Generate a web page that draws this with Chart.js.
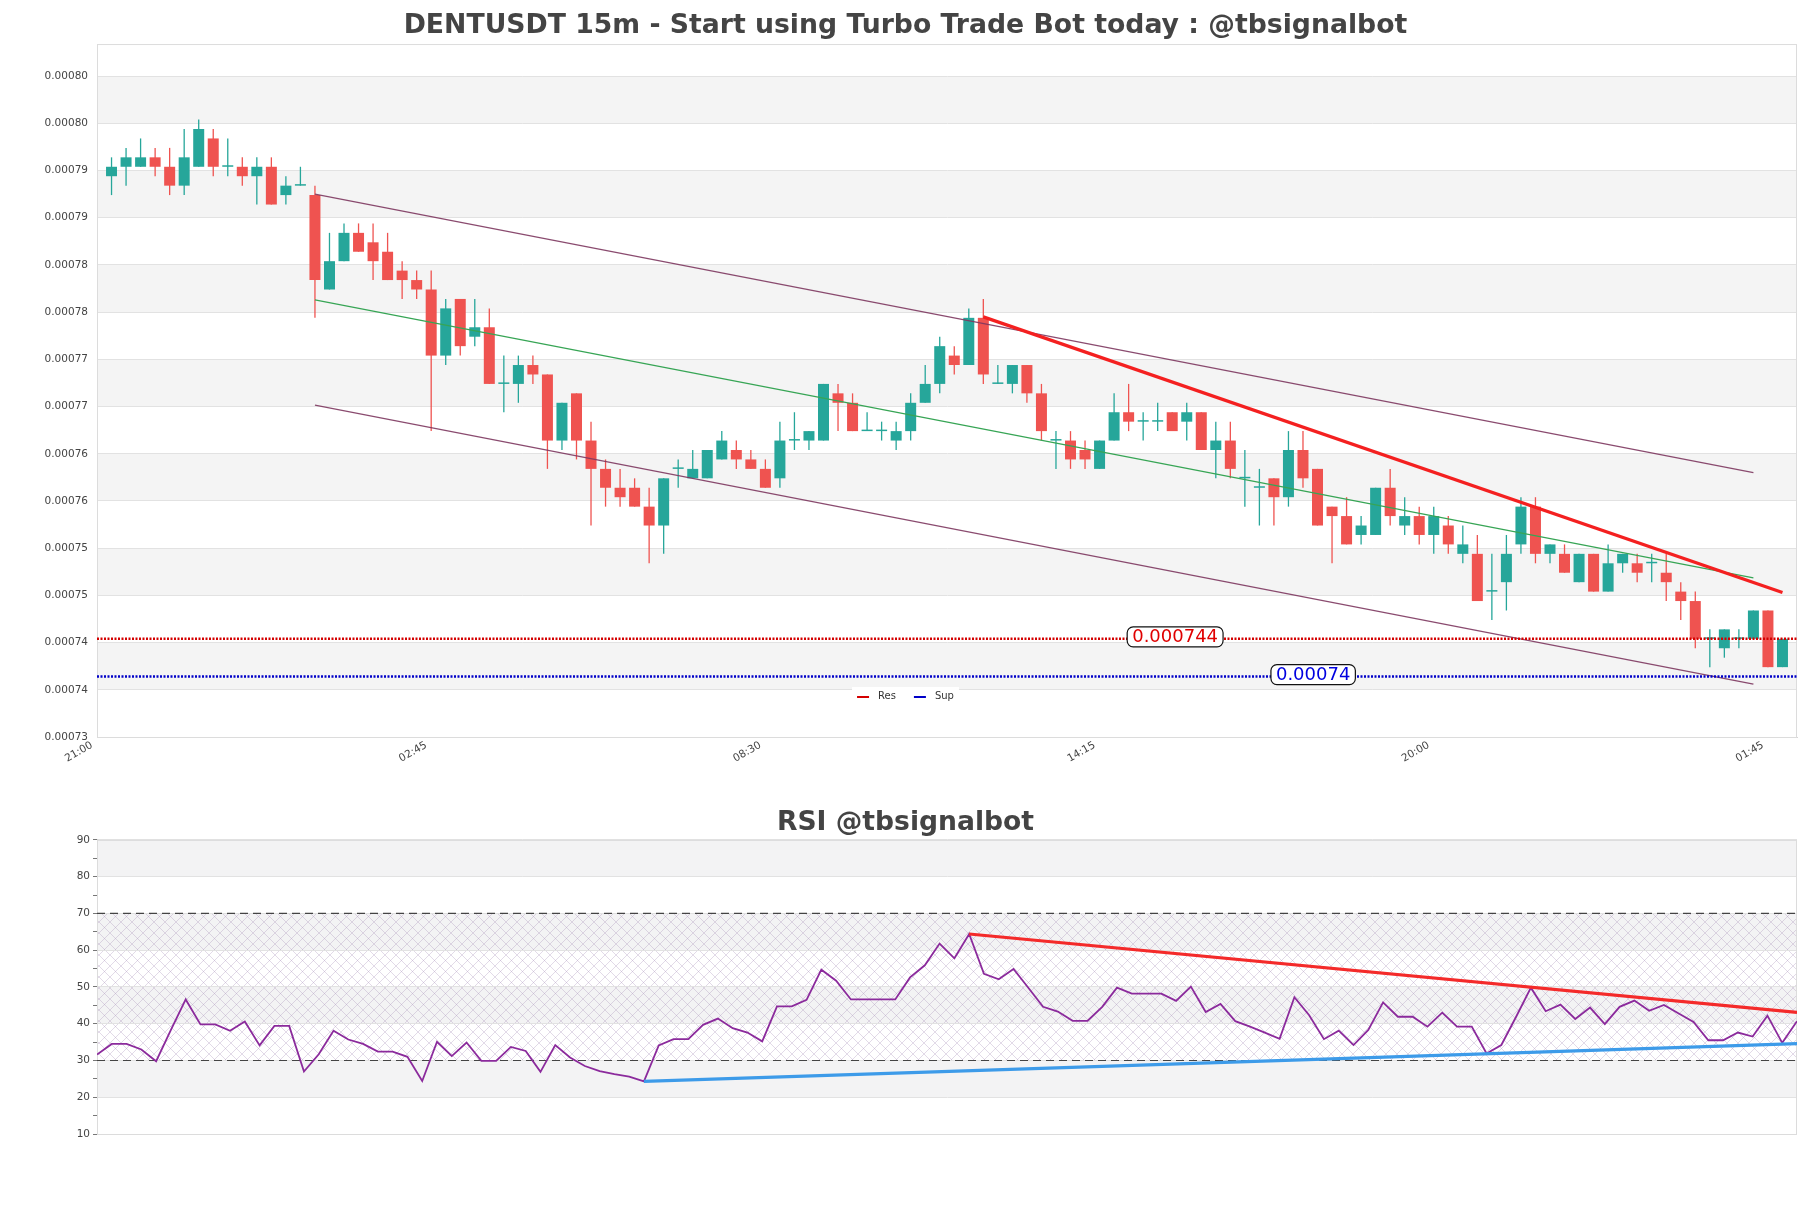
<!DOCTYPE html>
<html>
<head>
<meta charset="utf-8">
<title>DENTUSDT 15m</title>
<script src="https://cdn.jsdelivr.net/npm/chart.js@4.4.1/dist/chart.umd.min.js"></script>
<style>
  body { margin: 0; background: #fff; }
  #wrap { position: relative; width: 1811px; height: 1208px; }
  #price-wrap { position: absolute; left: 0; top: 0; width: 1811px; height: 790px; }
  #rsi-wrap { position: absolute; left: 0; top: 790px; width: 1811px; height: 418px; }
</style>
</head>
<body>
<div id="wrap">
  <div id="price-wrap"><canvas id="price-canvas"></canvas></div>
  <div id="rsi-wrap"><canvas id="rsi-canvas"></canvas></div>
</div>
<script>
// prices are in millionths of USDT (793 -> 0.000793), candle n sits at x = n (21:00 = 0)
const opens = [
  793, 794, 794, 795, 794, 792, 794, 797, 794, 794,
  793, 794, 791, 792, 791, 781, 784, 787, 786, 785,
  783, 782, 781, 774, 780, 776, 777, 771, 771, 773,
  772, 765, 770, 765, 762, 760, 760, 758, 756, 762,
  761, 761, 763, 764, 763, 762, 761, 765, 765, 765,
  770, 769, 766, 766, 765, 766, 769, 771, 774, 773,
  778, 771, 771, 773, 770, 765, 765, 764, 762, 765,
  768, 767, 767, 768, 767, 768, 764, 765, 761, 760,
  761, 759, 764, 762, 758, 757, 755, 755, 760, 756,
  757, 755, 756, 753, 753, 749, 750, 754, 758, 753,
  753, 750, 753, 749, 752, 752, 752, 751, 749, 748,
  744, 743, 744, 744, 747, 741
];
const highs = [
  795, 796, 797, 796, 796, 798, 799, 798, 797, 795,
  795, 795, 793, 794, 792, 787, 788, 788, 788, 787,
  784, 783, 783, 780, 780, 780, 779, 774, 774, 774,
  772, 769, 770, 767, 763, 762, 761, 760, 761, 763,
  764, 764, 766, 765, 764, 763, 767, 768, 766, 771,
  771, 770, 768, 767, 767, 770, 773, 776, 775, 779,
  780, 773, 773, 773, 771, 766, 766, 765, 765, 770,
  771, 768, 769, 768, 769, 768, 767, 767, 764, 762,
  761, 766, 766, 762, 758, 759, 757, 760, 762, 759,
  758, 758, 757, 756, 755, 753, 755, 759, 759, 754,
  754, 753, 753, 754, 753, 753, 753, 753, 750, 749,
  745, 745, 745, 747, 747, 744
];
const lows = [
  791, 792, 794, 793, 791, 791, 794, 793, 793, 792,
  790, 790, 790, 792, 778, 781, 784, 785, 782, 782,
  780, 780, 766, 773, 774, 775, 771, 768, 769, 771,
  762, 764, 763, 756, 758, 758, 758, 752, 753, 760,
  761, 761, 763, 762, 762, 760, 760, 764, 764, 765,
  766, 766, 766, 765, 764, 765, 769, 770, 772, 773,
  771, 771, 770, 769, 765, 762, 762, 762, 762, 765,
  766, 765, 766, 766, 765, 764, 761, 761, 758, 756,
  756, 758, 760, 756, 752, 754, 754, 755, 756, 755,
  754, 753, 753, 752, 748, 746, 747, 753, 752, 752,
  751, 750, 749, 749, 751, 750, 750, 748, 746, 743,
  741, 742, 743, 744, 741, 741
];
const closes = [
  794, 795, 795, 794, 792, 795, 798, 794, 794, 793,
  794, 790, 792, 792, 782, 784, 787, 785, 784, 782,
  782, 781, 774, 779, 775, 777, 771, 771, 773, 772,
  765, 769, 765, 762, 760, 759, 758, 756, 761, 762,
  762, 764, 765, 763, 762, 760, 765, 765, 766, 771,
  769, 766, 766, 766, 766, 769, 771, 775, 773, 778,
  772, 771, 773, 770, 766, 765, 763, 763, 765, 768,
  767, 767, 767, 766, 768, 764, 765, 762, 761, 760,
  759, 764, 761, 756, 757, 754, 756, 760, 757, 757,
  755, 757, 754, 754, 748, 749, 753, 758, 753, 754,
  751, 753, 749, 752, 753, 751, 752, 750, 748, 744,
  744, 745, 744, 747, 741, 744
];

const priceTicks = [733.6, 738.6, 743.6, 748.6, 753.6, 758.6, 763.6, 768.6,
  773.6, 778.6, 783.6, 788.6, 793.6, 798.6, 803.6];
const xTickPos = [0, 23, 46, 69, 92, 115];
const xTickLabels = ['21:00', '02:45', '08:30', '14:15', '20:00', '01:45'];

// regression channel (start/end candle, price)
const channelX = [15, 114];
const channelUpper = [791.1, 761.6];
const channelMid = [779.9, 750.45];
const channelLower = [768.75, 739.2];

// resistance trend line
const trendX = [61, 116];
const trendY = [778.1, 748.9];

const resLevel = 744;
const supLevel = 740;
const resLabelAt = 74.2;
const supLabelAt = 83.7;

// RSI
const rsiValues = [
  31.6, 34.5, 34.5, 33.0, 29.8, 38.3, 46.6, 39.8, 39.8, 38.1,
  40.6, 34.1, 39.4, 39.4, 27.0, 31.7, 38.1, 35.7, 34.5, 32.4,
  32.4, 31.0, 24.4, 35.1, 31.2, 34.9, 29.9, 29.9, 33.7, 32.6,
  26.9, 34.2, 30.8, 28.5, 27.1, 26.3, 25.6, 24.3, 34.1, 35.8,
  35.8, 39.7, 41.4, 38.8, 37.6, 35.2, 44.7, 44.7, 46.5, 54.7,
  51.7, 46.6, 46.6, 46.6, 46.6, 52.6, 55.9, 61.8, 57.8, 64.4,
  53.6, 52.1, 54.9, 49.8, 44.6, 43.3, 40.8, 40.8, 44.6, 49.8,
  48.2, 48.2, 48.2, 46.2, 50.1, 43.2, 45.4, 40.7, 39.2, 37.6,
  35.9, 47.2, 42.3, 35.8, 38.1, 34.2, 38.3, 45.8, 41.9, 41.9,
  39.2, 43.0, 39.2, 39.2, 31.9, 34.2, 41.9, 49.8, 43.4, 45.2,
  41.3, 44.4, 39.9, 44.6, 46.3, 43.5, 45.1, 42.8, 40.5, 35.5,
  35.5, 37.6, 36.5, 42.2, 34.8, 40.7
];
const rsiBandTicks = [10, 20, 30, 40, 50, 60, 70, 80, 90];
const rsiUpper = 70;
const rsiLower = 30;
const rsiResX = [59, 115];
const rsiResY = [64.4, 43.1];
const rsiSupX = [37, 115];
const rsiSupY = [24.3, 34.6];

const UP = '#26a69a';
const DOWN = '#ef5350';

Chart.defaults.font.family = '"DejaVu Sans", sans-serif';
Chart.defaults.color = '#444';

// alternating grey rows between the given edges, optional hatch box
const bandsPlugin = {
  id: 'bands',
  beforeDraw(chart, args, opts) {
    const { ctx, chartArea: a, scales: { y } } = chart;
    const e = opts.edges;
    ctx.save();
    ctx.fillStyle = opts.color;
    for (let k = 1; k < e.length - 1; k += 2) {
      const y1 = y.getPixelForValue(e[k]);
      const y2 = y.getPixelForValue(e[k + 1]);
      ctx.fillRect(a.left, y2, a.right - a.left, y1 - y2);
    }
    if (opts.hatch) {
      const tile = document.createElement('canvas');
      tile.width = 11; tile.height = 11;
      const t = tile.getContext('2d');
      t.strokeStyle = 'rgba(165,140,185,0.32)';
      t.lineWidth = 1;
      t.beginPath();
      t.moveTo(0, 0); t.lineTo(11, 11);
      t.moveTo(11, 0); t.lineTo(0, 11);
      t.stroke();
      const top = y.getPixelForValue(opts.hatch[1]);
      const bot = y.getPixelForValue(opts.hatch[0]);
      ctx.fillStyle = ctx.createPattern(tile, 'repeat');
      ctx.fillRect(a.left, top, a.right - a.left, bot - top);
    }
    ctx.restore();
  },
  beforeDatasetsDraw(chart) {
    const { ctx, chartArea: a } = chart;
    ctx.save();
    ctx.strokeStyle = '#dcdcdc';
    ctx.lineWidth = 1;
    ctx.strokeRect(a.left + 0.5, a.top + 0.5, a.right - a.left - 1, a.bottom - a.top);
    ctx.restore();
  }
};

// boxed price labels sitting on the Res / Sup lines
const levelLabels = {
  id: 'levelLabels',
  afterDatasetsDraw(chart, args, opts) {
    const { ctx, scales: { x, y } } = chart;
    ctx.save();
    ctx.font = '18px "DejaVu Sans"';
    ctx.textAlign = 'center';
    ctx.textBaseline = 'middle';
    opts.items.forEach(it => {
      const px = x.getPixelForValue(it.at);
      const py = y.getPixelForValue(it.value) - 2;
      const text = String(it.value / 1e6);
      const w = ctx.measureText(text).width + 10;
      const h = 20;
      ctx.beginPath();
      ctx.roundRect(px - w / 2, py - h / 2, w, h, 6);
      ctx.fillStyle = '#fff';
      ctx.fill();
      ctx.lineWidth = 1.2;
      ctx.strokeStyle = '#111';
      ctx.stroke();
      ctx.fillStyle = it.color;
      ctx.fillText(text, px, py + 1);
    });
    ctx.restore();
  }
};

// small legend inside the plot, bottom centre
const miniLegend = {
  id: 'miniLegend',
  afterDraw(chart, args, opts) {
    const { ctx, chartArea } = chart;
    const items = chart.data.datasets.filter(d => opts.labels.includes(d.label));
    ctx.save();
    ctx.font = '10px "DejaVu Sans"';
    ctx.textBaseline = 'middle';
    const widths = items.map(d => 12 + 9 + ctx.measureText(d.label).width);
    const gap = 18, pad = 5;
    const total = widths.reduce((s, w) => s + w, 0) + gap * (items.length - 1) + pad * 2;
    const cx = chart.width / 2;
    const cy = chartArea.bottom - 41;
    ctx.fillStyle = '#fff';
    ctx.fillRect(cx - total / 2, cy - 9, total, 18);
    let xx = cx - total / 2 + pad;
    items.forEach((d, i) => {
      ctx.strokeStyle = d.borderColor;
      ctx.lineWidth = 2;
      ctx.beginPath();
      ctx.moveTo(xx, cy + 1);
      ctx.lineTo(xx + 12, cy + 1);
      ctx.stroke();
      ctx.fillStyle = '#333';
      ctx.fillText(d.label, xx + 21, cy);
      xx += widths[i] + gap;
    });
    ctx.restore();
  }
};

const candleColor = ctx => closes[ctx.dataIndex] >= opens[ctx.dataIndex] ? UP : DOWN;
const twoPoints = (xs, ys) => [{ x: xs[0], y: ys[0] }, { x: xs[1], y: ys[1] }];

const wickData = lows.map((l, i) => ({ x: i + 1, y: [l, highs[i]] }));
const bodyData = opens.map((o, i) => ({ x: i + 1, y: [o, closes[i]] }));

new Chart(document.getElementById('price-canvas'), {
  type: 'bar',
  data: {
    datasets: [
      { label: 'wick', data: wickData, backgroundColor: candleColor, barThickness: 1.3,
        grouped: false, inflateAmount: 0, order: 6 },
      { label: 'body', data: bodyData, backgroundColor: candleColor, barThickness: 11,
        minBarLength: 1.5, grouped: false, inflateAmount: 0, order: 5 },
      { type: 'line', label: 'upper', data: twoPoints(channelX, channelUpper),
        borderColor: 'rgba(125,55,95,0.9)', borderWidth: 1.3, pointRadius: 0, order: 3 },
      { type: 'line', label: 'mid', data: twoPoints(channelX, channelMid),
        borderColor: 'rgb(55,165,85)', borderWidth: 1.2, pointRadius: 0, order: 3 },
      { type: 'line', label: 'lower', data: twoPoints(channelX, channelLower),
        borderColor: 'rgba(125,55,95,0.9)', borderWidth: 1.3, pointRadius: 0, order: 3 },
      { type: 'line', label: 'Res', data: [{ x: 0, y: resLevel }, { x: 117, y: resLevel }],
        borderColor: '#d40000', borderWidth: 2.5, borderDash: [2, 1.5], pointRadius: 0, order: 2 },
      { type: 'line', label: 'Sup', data: [{ x: 0, y: supLevel }, { x: 117, y: supLevel }],
        borderColor: '#0000c8', borderWidth: 2.5, borderDash: [2, 1.5], pointRadius: 0, order: 2 },
      { type: 'line', label: 'trend', data: twoPoints(trendX, trendY),
        borderColor: '#f42020', borderWidth: 3.2, pointRadius: 0, order: 1 }
    ]
  },
  options: {
    responsive: true,
    maintainAspectRatio: false,
    animation: false,
    events: [],
    // left pad + axis width = 97, same pad both sides so the title sits in the page centre
    layout: { padding: { left: 14, right: 14, top: 0, bottom: 0 } },
    plugins: {
      title: {
        display: true,
        text: 'DENTUSDT 15m - Start using Turbo Trade Bot today : @tbsignalbot',
        color: '#444',
        font: { size: 26.7, weight: 'bold' },
        padding: { top: 10, bottom: 2 }
      },
      legend: { display: false },
      tooltip: { enabled: false },
      bands: { edges: priceTicks, color: '#f4f4f4' },
      levelLabels: {
        items: [
          { at: resLabelAt, value: resLevel, color: '#e00000' },
          { at: supLabelAt, value: supLevel, color: '#0000e0' }
        ]
      },
      miniLegend: { labels: ['Res', 'Sup'] }
    },
    scales: {
      x: {
        type: 'linear',
        min: 0,
        max: 117,
        offset: false,
        afterBuildTicks: s => { s.ticks = xTickPos.map(v => ({ value: v })); },
        afterFit: s => { s.height = 53; },
        grid: { display: false, drawTicks: false },
        border: { color: '#d6d6d6' },
        ticks: {
          autoSkip: false, minRotation: 30, maxRotation: 30, padding: 2, labelOffset: -5,
          font: { size: 10.5 }, color: '#444',
          callback: (v, i) => xTickLabels[i]
        }
      },
      y: {
        type: 'linear',
        min: 733.6,
        max: 807,
        beginAtZero: false,
        afterBuildTicks: s => { s.ticks = priceTicks.map(v => ({ value: v })); },
        afterFit: s => { s.width = 83; },
        grid: { color: '#e2e2e2', drawTicks: false },
        border: { color: '#d6d6d6' },
        ticks: {
          padding: 9, font: { size: 10.5 }, color: '#444',
          callback: v => (v / 1e6).toFixed(5)
        }
      }
    }
  },
  plugins: [bandsPlugin, levelLabels, miniLegend]
});

new Chart(document.getElementById('rsi-canvas'), {
  type: 'line',
  data: {
    datasets: [
      { label: 'RSI', data: rsiValues.map((v, i) => ({ x: i, y: v })),
        borderColor: '#8b2a9c', borderWidth: 1.8, pointRadius: 0, order: 3 },
      { label: 'ob', data: [{ x: 0, y: rsiUpper }, { x: 115, y: rsiUpper }],
        borderColor: '#444', borderWidth: 1.2, borderDash: [8, 5], pointRadius: 0, order: 4 },
      { label: 'os', data: [{ x: 0, y: rsiLower }, { x: 115, y: rsiLower }],
        borderColor: '#444', borderWidth: 1.2, borderDash: [8, 5], pointRadius: 0, order: 4 },
      { label: 'rsiRes', data: twoPoints(rsiResX, rsiResY),
        borderColor: '#f42a2a', borderWidth: 3.2, pointRadius: 0, order: 1 },
      { label: 'rsiSup', data: twoPoints(rsiSupX, rsiSupY),
        borderColor: '#3d9be9', borderWidth: 3.2, pointRadius: 0, order: 1 }
    ]
  },
  options: {
    responsive: true,
    maintainAspectRatio: false,
    animation: false,
    events: [],
    layout: { padding: { left: 14, right: 14, top: 0, bottom: 74 } },
    plugins: {
      title: {
        display: true,
        text: 'RSI @tbsignalbot',
        color: '#444',
        font: { size: 26.6, weight: 'bold' },
        padding: { top: 17, bottom: 1 }
      },
      legend: { display: false },
      tooltip: { enabled: false },
      bands: { edges: rsiBandTicks, color: '#f3f3f4', hatch: [rsiLower, rsiUpper] }
    },
    scales: {
      x: { type: 'linear', min: 0, max: 115, display: false },
      y: {
        min: 10,
        max: 90,
        afterFit: s => { s.width = 83; },
        grid: {
          color: ctx => ctx.tick.value % 10 === 0 ? '#e2e2e2' : 'rgba(0,0,0,0)',
          tickColor: '#777',
          tickLength: 4
        },
        border: { color: '#d6d6d6' },
        ticks: {
          stepSize: 5, autoSkip: false, padding: 3, font: { size: 10.5 }, color: '#444',
          callback: v => v % 10 === 0 ? v : ''
        }
      }
    }
  },
  plugins: [bandsPlugin]
});
</script>
</body>
</html>
